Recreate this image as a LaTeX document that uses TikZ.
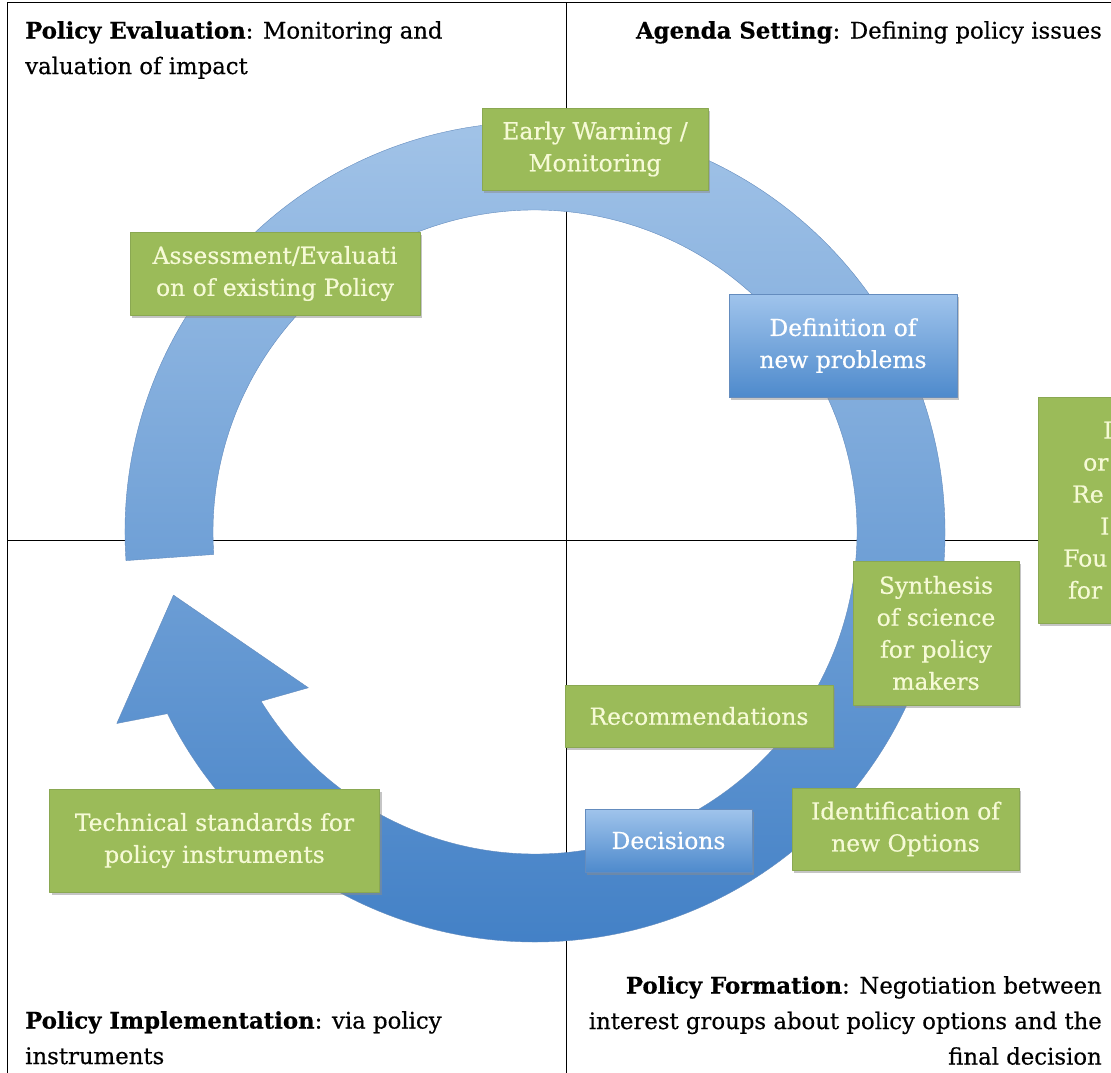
\documentclass[tikz,border=0pt]{standalone}
\usepackage{fontspec}
\setmainfont{DejaVu Serif}[FakeBold=0.5]
\usetikzlibrary{calc,shadows}
\definecolor{boxgreen}{RGB}{155,187,89}
\definecolor{boxgreenline}{RGB}{138,168,82}
\definecolor{boxtext}{RGB}{246,250,214}
\definecolor{ringtop}{RGB}{163,196,232}
\definecolor{ringbot}{RGB}{66,128,198}
\definecolor{ringline}{RGB}{100,140,190}
\definecolor{bluetop}{RGB}{160,196,236}
\definecolor{bluebot}{RGB}{78,138,204}
\newcommand\boxfont{\fontsize{23.4}{32}\selectfont}
\newcommand\labelfont{\fontsize{22.8}{35.5}\selectfont}
\tikzset{
  greenbox/.style={draw=boxgreenline,fill=boxgreen,text=boxtext,align=center,inner sep=0pt,font=\boxfont,
    drop shadow={shadow xshift=2pt,shadow yshift=-3pt,fill=black!45,opacity=.5}},
  bluebox/.style={greenbox,draw=ringline,top color=bluetop,bottom color=bluebot,text=white},
  quadlabel/.style={inner sep=0pt,font=\labelfont}
}
\begin{document}
\begin{tikzpicture}[x=1pt,y=-1pt,line join=round]
	\useasboundingbox (0,0) rectangle (1111,1073);
	\coordinate (C) at (535,532);
	% quadrants
	\draw[line width=1pt] (7,1073)--(7,3)--(1111,3) (566,3)--(566,1073) (7,540)--(1038,540);
	% policy cycle arrow
	\path[draw=ringline,top color=ringtop,bottom color=ringbot]
	($(C)+(176:410)$) arc[start angle=176,end angle=513.7,radius=410]
	-- ($(C)+(155.4:460)$) -- ($(C)+(170.1:367)$) -- ($(C)+(145.5:275)$)
	-- ($(C)+(148.3:322)$) arc[start angle=508.3,end angle=176,radius=322] -- cycle;
	% steps
	\node[greenbox,minimum width=226pt,minimum height=82pt] (early) at (595,149) {Early Warning /\\Monitoring};
	\node[greenbox,minimum width=290pt,minimum height=83pt] (assess) at (275,273.5) {Assessment/Evaluati\\on of existing Policy};
	\node[bluebox,minimum width=228pt,minimum height=103pt] (defn) at (843,345.5) {Definition of\\new problems};
	\node[greenbox,anchor=north west,minimum width=180pt,minimum height=226pt,text width=180pt,align=left] (rbox) at (1038,397)
	{\hspace*{65pt}I\\\hspace*{45pt}or\\\hspace*{34pt}Re\\\hspace*{62pt}I\\\hspace*{25pt}Fou\\\hspace*{30pt}for};
	\node[greenbox,minimum width=166pt,minimum height=144pt] (synth) at (936,633) {Synthesis\\of science\\for policy\\makers};
	\node[greenbox,minimum width=268pt,minimum height=62pt] (recom) at (699,716) {Recommendations};
	\node[greenbox,minimum width=227pt,minimum height=82pt] (ident) at (905.5,829) {Identification of\\new Options};
	\node[bluebox,minimum width=167pt,minimum height=63pt] (decis) at (668.5,840.5) {Decisions};
	\node[greenbox,minimum width=330pt,minimum height=103pt] (techn) at (214.5,840.5) {Technical standards for\\policy instruments};
	% quadrant labels
	\node[quadlabel,anchor=north west,align=left] (evallab) at (25,21) {\textbf{Policy Evaluation}: Monitoring and\\valuation of impact};
	\node[quadlabel,anchor=north east] (agendalab) at (1102,21) {\textbf{Agenda Setting}: Defining policy issues};
	\node[quadlabel,anchor=north east,align=right] (formlab) at (1102,976) {\textbf{Policy Formation}: Negotiation between\\interest groups about policy options and the\\final decision};
	\node[quadlabel,anchor=north west,align=left] (implab) at (25,1011) {\textbf{Policy Implementation}: via policy\\instruments};
\end{tikzpicture}
\end{document}
